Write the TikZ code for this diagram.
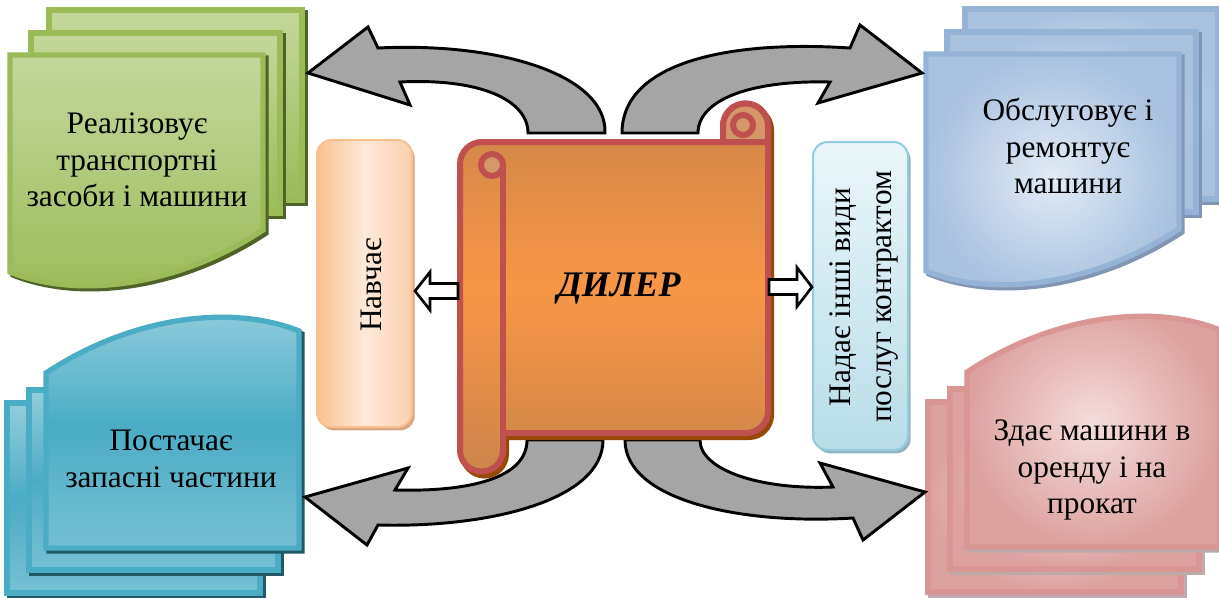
\documentclass[tikz,border=0pt]{standalone}
\usepackage{fontspec}
\setmainfont{Liberation Serif}
\usepackage{xcolor}
\usetikzlibrary{positioning, calc, shadows}
\definecolor{DocGreen}{RGB}{155, 187, 89}
\definecolor{GreenLight}{RGB}{196, 215, 155}
\definecolor{GreenShade}{RGB}{79, 98, 40}
\definecolor{DocBlue}{RGB}{149, 179, 215}
\definecolor{BlueLight}{RGB}{226, 235, 245}
\definecolor{BlueShade}{RGB}{128, 150, 180}
\definecolor{DocCyan}{RGB}{75, 172, 198}
\definecolor{CyanLight}{RGB}{147, 205, 221}
\definecolor{CyanShade}{RGB}{33, 89, 104}
\definecolor{DocPink}{RGB}{217, 150, 148}
\definecolor{PinkLight}{RGB}{243, 222, 221}
\definecolor{PinkShade}{RGB}{190, 170, 170}
\definecolor{ScrollRed}{RGB}{192, 80, 77}
\definecolor{ScrollOrange}{RGB}{247, 150, 70}
\definecolor{ScrollBrown}{RGB}{205, 133, 75}
\definecolor{ScrollShade}{RGB}{152, 72, 7}
\definecolor{ScrollCurl}{RGB}{213, 151, 106}
\definecolor{ArrowGrey}{RGB}{165, 165, 165}
\definecolor{TeachDark}{RGB}{249, 192, 143}
\definecolor{TeachLight}{RGB}{253, 233, 217}
\definecolor{TeachShade}{RGB}{217, 165, 128}
\definecolor{ServLine}{RGB}{147, 205, 221}
\definecolor{ServLight}{RGB}{234, 246, 249}
\definecolor{ServDark}{RGB}{183, 221, 232}
\definecolor{ServShade}{RGB}{150, 180, 190}

\tikzset{
  sheet/.style={line width=4pt, line join=miter},
  greenfill/.style={top color=GreenLight, bottom color=DocGreen},
  bluefill/.style={inner color=BlueLight, outer color=DocBlue!75!BlueLight},
  cyanfill/.style={top color=CyanLight, bottom color=CyanLight!60!DocCyan, middle color=DocCyan},
  pinkfill/.style={inner color=PinkLight, outer color=DocPink!85!PinkLight},
  doclabel/.style={font=\fontsize{23.5}{27.5}\selectfont, align=center, inner sep=0pt},
  bigarrow/.style={fill=ArrowGrey, draw=black, line width=2.2pt, line join=miter},
  hollowarrow/.style={fill=white, draw=black, line width=2pt, line join=miter},
  scrollline/.style={line width=4.5pt, draw=ScrollRed},
  scrolloutline/.style={insert path={(460,164) arc[start angle=180, end angle=270, radius=22]
    -- (723,142) -- (723,126) arc[start angle=180, end angle=360, radius=22.5]
    -- (768,411) arc[start angle=0, end angle=90, radius=22]
    -- (503,433) -- (503,450) arc[start angle=0, end angle=180, radius=21.5] -- cycle}},
  sidebox/.style={rounded corners=11pt, line width=1.5pt, minimum width=71.25pt}
}

% three stacked sheets: line colour, fill style, shade colour, shade offset
\newcommand{\docstack}[4]{%
  \foreach \sx/\sy/\sw/\sh in {39/0/253/190, 21/23/249/180}{
    \path[sheet, fill=#3, draw=#3, shift={(#4)}] (\sx,\sy) rectangle ++(\sw,\sh);
    \path[sheet, draw=#1, #2] (\sx,\sy) rectangle ++(\sw,\sh);
  }
  \path[sheet, fill=#3, draw=#3, shift={(#4)}] (0,45) -- (253,45) -- (253,220)
    .. controls (170,275) and (70,290) .. (0,262) -- cycle;
  \path[sheet, draw=#1, #2] (0,45) -- (253,45) -- (253,220)
    .. controls (170,275) and (70,290) .. (0,262) -- cycle;
}

\begin{document}
\begin{tikzpicture}[x=0.75pt, y=-0.75pt]
  \useasboundingbox (0,0) rectangle (1219,597);
  \fill[white] (0,0) rectangle (1219,597);

  \begin{scope}[shift={(10,10)}]
    \docstack{DocGreen}{greenfill}{GreenShade}{3,3}
  \end{scope}
  \begin{scope}[shift={(926,9)}]
    \docstack{DocBlue}{bluefill}{BlueShade}{3,3}
  \end{scope}
  \begin{scope}[shift={(299,593)}, rotate=180]
    \docstack{DocCyan}{cyanfill}{CyanShade}{-3,-3}
  \end{scope}
  \begin{scope}[shift={(1220,592)}, rotate=180]
    \docstack{DocPink}{pinkfill}{PinkShade}{-3,-3}
  \end{scope}

  \node[doclabel] (sell) at (137,160) {Реалізовує\\транспортні\\засоби і машини};
  \node[doclabel] (repair) at (1068,146) {Обслуговує і\\ремонтує\\машини};
  \node[doclabel] (parts) at (171,459) {Постачає\\запасні частини};
  \node[doclabel] (rent) at (1092,470) {Здає машини в\\оренду і на\\прокат};

  % curved arrows
  \draw[bigarrow] (528,133) -- (605,133) .. controls (607,75) and (500,42) .. (378,48)
    -- (368,27) -- (308,73) -- (410,105) -- (400,82) .. controls (480,78) and (528,100) .. (528,133) -- cycle;
  \draw[bigarrow] (622,133) .. controls (622,62) and (730,40) .. (850,48)
    -- (860,25) -- (922,73) -- (818,103) -- (830,82) .. controls (750,80) and (698,100) .. (698,133) -- cycle;
  \draw[bigarrow] (527,440) -- (603,440) .. controls (603,500) and (490,528) .. (378,525)
    -- (367,545) -- (305,497) -- (408,468) -- (395,490) .. controls (470,492) and (527,478) .. (527,440) -- cycle;
  \draw[bigarrow] (625,440) .. controls (625,500) and (740,525) .. (853,518)
    -- (863,540) -- (925,492) -- (820,463) -- (833,487) .. controls (760,490) and (700,470) .. (700,440) -- cycle;

  % side boxes
  \node[sidebox, minimum height=215.25pt, draw=TeachDark, left color=TeachDark,
    right color=TeachDark!60!TeachLight, middle color=TeachLight,
    drop shadow={shadow xshift=2pt, shadow yshift=-2.5pt, fill=TeachShade, opacity=1}] (teach) at (364.5,283.5) {};
  \node[doclabel, rotate=90] (teachtext) at (371,285) {Навчає};
  \node[sidebox, minimum height=231pt, draw=ServLine, top color=ServLight, bottom color=ServDark,
    drop shadow={shadow xshift=2pt, shadow yshift=-2.5pt, fill=ServShade, opacity=1}] (service) at (860.5,296) {};
  \node[doclabel, rotate=90, font=\fontsize{23.5}{30.75}\selectfont] (servicetext) at (864,297)
    {Надає інші види\\послуг контрактом};

  % dealer scroll
  \path[scrollline, draw=ScrollShade, fill=ScrollShade, shift={(3,4)}, scrolloutline];
  \path[scrollline, top color=ScrollBrown, bottom color=ScrollBrown, middle color=ScrollOrange, scrolloutline];
  \path[scrollline, fill=ScrollCurl] (723,142) -- (723,126) arc[start angle=180, end angle=360, radius=22.5]
    -- (768,142) -- cycle;
  \draw[scrollline, fill=ScrollCurl] (743,125) circle[radius=10];
  \draw[scrollline, fill=ScrollCurl] (492,165) circle[radius=11];
  \draw[scrollline] (503,165) -- (503,436);
  \node[font=\fontsize{27}{30}\selectfont\bfseries\itshape] (dealer) at (619,289) {ДИЛЕР};

  \coordinate (scrollW) at (458,291);
  \coordinate (scrollE) at (769,287);
  \draw[hollowarrow] (scrollW) ++(0,-7.5) -- ++(-28,0) -- ++(0,-11.5) -- ++(-15,19)
    -- ++(15,19) -- ++(0,-11.5) -- ++(28,0) -- cycle;
  \draw[hollowarrow] (scrollE) ++(0,-7.5) -- ++(28,0) -- ++(0,-12) -- ++(15,19.5)
    -- ++(-15,19.5) -- ++(0,-12) -- ++(-28,0) -- cycle;
\end{tikzpicture}
\end{document}
